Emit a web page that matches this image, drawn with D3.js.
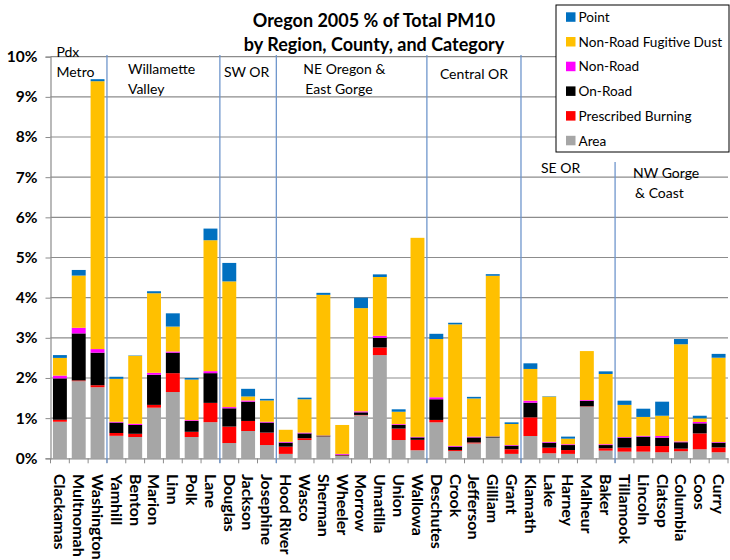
<!DOCTYPE html>
<html><head><meta charset="utf-8">
<script src="https://cdn.jsdelivr.net/npm/d3@7"></script>
<style>
html,body{margin:0;padding:0;background:#fff;}
svg{display:block;font-family:Lato,"Open Sans",sans-serif;}
</style></head>
<body>
<svg id="chart" width="730" height="560"></svg>
<script>
const counties = ["Clackamas","Multnomah","Washington","Yamhill","Benton","Marion","Linn","Polk","Lane",
  "Douglas","Jackson","Josephine","Hood River","Wasco","Sherman","Wheeler","Morrow","Umatilla","Union","Wallowa",
  "Deschutes","Crook","Jefferson","Gilliam","Grant","Klamath","Lake","Harney","Malheur","Baker",
  "Tillamook","Lincoln","Clatsop","Columbia","Coos","Curry"];
const area     = [0.91,1.92,1.77,0.56,0.53,1.26,1.65,0.53,0.90, 0.38,0.68,0.33, 0.11,0.455,0.54,0.06,1.07,2.57,0.455,0.20, 0.895,0.18,0.37,0.515,0.11, 0.555,0.125,0.11,1.285,0.19, 0.165,0.165,0.15,0.175,0.225,0.15];
const burning  = [0.05,0.02,0.05,0.07,0.08,0.07,0.47,0.13,0.48, 0.41,0.25,0.31, 0.18,0.045,0.005,0.01,0.01,0.19,0.285,0.26, 0.06,0.025,0.025,0.0,0.115, 0.465,0.14,0.095,0.01,0.06, 0.10,0.14,0.155,0.065,0.395,0.12];
const onRoad   = [1.03,1.17,0.81,0.26,0.22,0.75,0.51,0.27,0.74, 0.455,0.48,0.25, 0.10,0.12,0.02,0.02,0.065,0.24,0.09,0.06, 0.515,0.085,0.125,0.025,0.09, 0.365,0.125,0.125,0.135,0.08, 0.25,0.235,0.21,0.16,0.25,0.12];
const nonRoad  = [0.07,0.14,0.09,0.02,0.03,0.05,0.03,0.02,0.05, 0.03,0.03,0.02, 0.02,0.02,0.005,0.02,0.025,0.05,0.02,0.015, 0.05,0.02,0.02,0.005,0.015, 0.05,0.02,0.02,0.02,0.02, 0.015,0.02,0.04,0.02,0.035,0.015];
const dust     = [0.44,1.30,6.67,1.07,1.69,1.98,0.62,1.01,3.26, 3.13,0.10,0.53, 0.30,0.83,3.50,0.72,2.57,1.465,0.31,4.955, 1.45,3.025,0.95,4.0,0.525, 0.79,1.125,0.14,1.22,1.75, 0.80,0.47,0.505,2.42,0.09,2.10];
const point    = [0.07,0.14,0.05,0.05,0.01,0.05,0.33,0.04,0.29, 0.46,0.19,0.04, 0.0,0.04,0.05,0.0,0.26,0.065,0.06,0.0, 0.13,0.04,0.04,0.04,0.04, 0.14,0.01,0.05,0.0,0.065, 0.105,0.205,0.35,0.13,0.065,0.095];
const seriesNames = ["Area","Prescribed Burning","On-Road","Non-Road","Non-Road Fugitive Dust","Point"];
const seriesColors = ["#A6A6A6","#FF0000","#000000","#FF00FF","#FFC000","#0070C0"];
const yTicks = [0,1,2,3,4,5,6,7,8,9,10];
const regionBreaks = ["Yamhill","Douglas","Hood River","Deschutes","Klamath","Tillamook"];
const regionLabels = [
  {lines:["Pdx","Metro"], at:"Clackamas"},
  {lines:["Willamette","Valley"], at:"Yamhill"},
  {lines:["SW OR"], at:"Douglas"},
  {lines:["NE Oregon &","East Gorge"], at:"Hood River"},
  {lines:["Central OR"], at:"Deschutes"},
  {lines:["SE OR"], at:"Klamath"},
  {lines:["NW Gorge","& Coast"], at:"Tillamook"}
];
const titleLines = ["Oregon 2005 % of Total PM10","by Region, County, and Category"];

const rows = counties.map((c,i)=>({county:c,"Area":area[i],"Prescribed Burning":burning[i],"On-Road":onRoad[i],
  "Non-Road":nonRoad[i],"Non-Road Fugitive Dust":dust[i],"Point":point[i]}));

const svg = d3.select("#chart");
const x = d3.scaleBand().domain(counties).range([50.5,728]).paddingInner(0.26).paddingOuter(0.13);
const y = d3.scaleLinear().domain([0,10]).range([458.3,56.7]);
const color = d3.scaleOrdinal().domain(seriesNames).range(seriesColors);

// gridlines
svg.append("g").selectAll("line").data(yTicks.filter(d=>d>0)).join("line")
  .attr("x1",50.5).attr("x2",728).attr("y1",d=>y(d)).attr("y2",d=>y(d))
  .attr("stroke","#8c8c8c").attr("stroke-width",1.2);

// y axis
const yAxis = d3.axisLeft(y).tickValues(yTicks).tickFormat(d=>d+"%").tickSize(5).tickPadding(8);
const gy = svg.append("g").attr("transform","translate(50.5,0)").call(yAxis);
gy.select(".domain").attr("stroke","#8c8c8c").attr("stroke-width",1.2);
gy.selectAll(".tick line").attr("stroke","#8c8c8c");
gy.selectAll(".tick text").attr("font-family","Lato").attr("font-weight","bold").attr("font-size",15.5).attr("fill","#000");

// bars
const stack = d3.stack().keys(seriesNames)(rows);
svg.append("g").selectAll("g").data(stack).join("g").attr("fill",d=>color(d.key))
  .selectAll("rect").data(d=>d).join("rect")
  .attr("x",d=>x(d.data.county)).attr("width",x.bandwidth())
  .attr("y",d=>y(d[1])).attr("height",d=>Math.max(0,y(d[0])-y(d[1])));

// x axis
const step = x.step();
const xAxis = d3.axisBottom(x).tickSize(0).tickFormat("");
const gx = svg.append("g").attr("transform",`translate(0,${y(0)})`).call(xAxis);
gx.select(".domain").attr("stroke","#8c8c8c").attr("stroke-width",1.2);
// boundary ticks
const bounds = d3.range(counties.length+1).map(i=>x(counties[0]) - x.step()*x.paddingOuter() + i*step);
svg.append("g").selectAll("line").data(bounds).join("line")
  .attr("x1",d=>d).attr("x2",d=>d).attr("y1",y(0)).attr("y2",y(0)+5)
  .attr("stroke","#8c8c8c").attr("stroke-width",1);

// x labels
svg.append("g").selectAll("text").data(counties).join("text")
  .attr("transform",d=>`translate(${x(d)+x.bandwidth()/2},474) rotate(90)`)
  .attr("dy","0.35em").attr("font-family","Lato").attr("font-weight","bold").attr("font-size",16)
  .text(d=>d);

// region separators
svg.append("g").selectAll("line").data(regionBreaks).join("line")
  .attr("x1",d=>x(d)-x.step()*x.paddingInner()/2).attr("x2",d=>x(d)-x.step()*x.paddingInner()/2)
  .attr("y1",d=>d==="Tillamook"?162:55).attr("y2",463)
  .attr("stroke","#6f96cc").attr("stroke-width",1.3);

// region labels
const regionOffsets = {"Clackamas":[6,56.5],"Yamhill":[21,73.5],"Douglas":[4,76.5],"Hood River":[27,73.5],"Deschutes":[13,78.5],"Klamath":[20,173],"Tillamook":[18,177.5]};
const rl = svg.append("g");
regionLabels.forEach(r=>{
  const o = regionOffsets[r.at];
  const bx = x(r.at)-x.step()*x.paddingInner()/2;
  const t = rl.append("text").attr("font-family","Lato").attr("font-size",14).attr("fill","#000");
  r.lines.forEach((ln,i)=>{
    t.append("tspan").attr("x",bx+o[0]+(r.at==="Tillamook"&&i===1?2:0)+(r.at==="Hood River"&&i===1?2:0)).attr("y",o[1]+i*(r.at==="Clackamas"?20.5:20.3)).text(ln);
  });
});

// title
svg.append("g").selectAll("text").data(titleLines).join("text")
  .attr("x",374).attr("y",(d,i)=>27+i*24).attr("text-anchor","middle")
  .attr("font-family","Lato").attr("font-weight","bold").attr("font-size",18).text(d=>d);

// legend
const lg = svg.append("g");
lg.append("rect").attr("x",556).attr("y",5).attr("width",173).attr("height",147)
  .attr("fill","#fff").attr("stroke","#000").attr("stroke-width",1);
const legendOrder = seriesNames.slice().reverse();
const li = lg.selectAll("g").data(legendOrder).join("g")
  .attr("transform",(d,i)=>`translate(566,${17.3+i*24.7})`);
li.append("rect").attr("x",0).attr("y",-5).attr("width",9.5).attr("height",9.5).attr("fill",d=>color(d));
li.append("text").attr("x",12.5).attr("dy","0.35em").attr("font-family","Lato").attr("font-size",13.6).text(d=>d);
</script>
</body></html>
